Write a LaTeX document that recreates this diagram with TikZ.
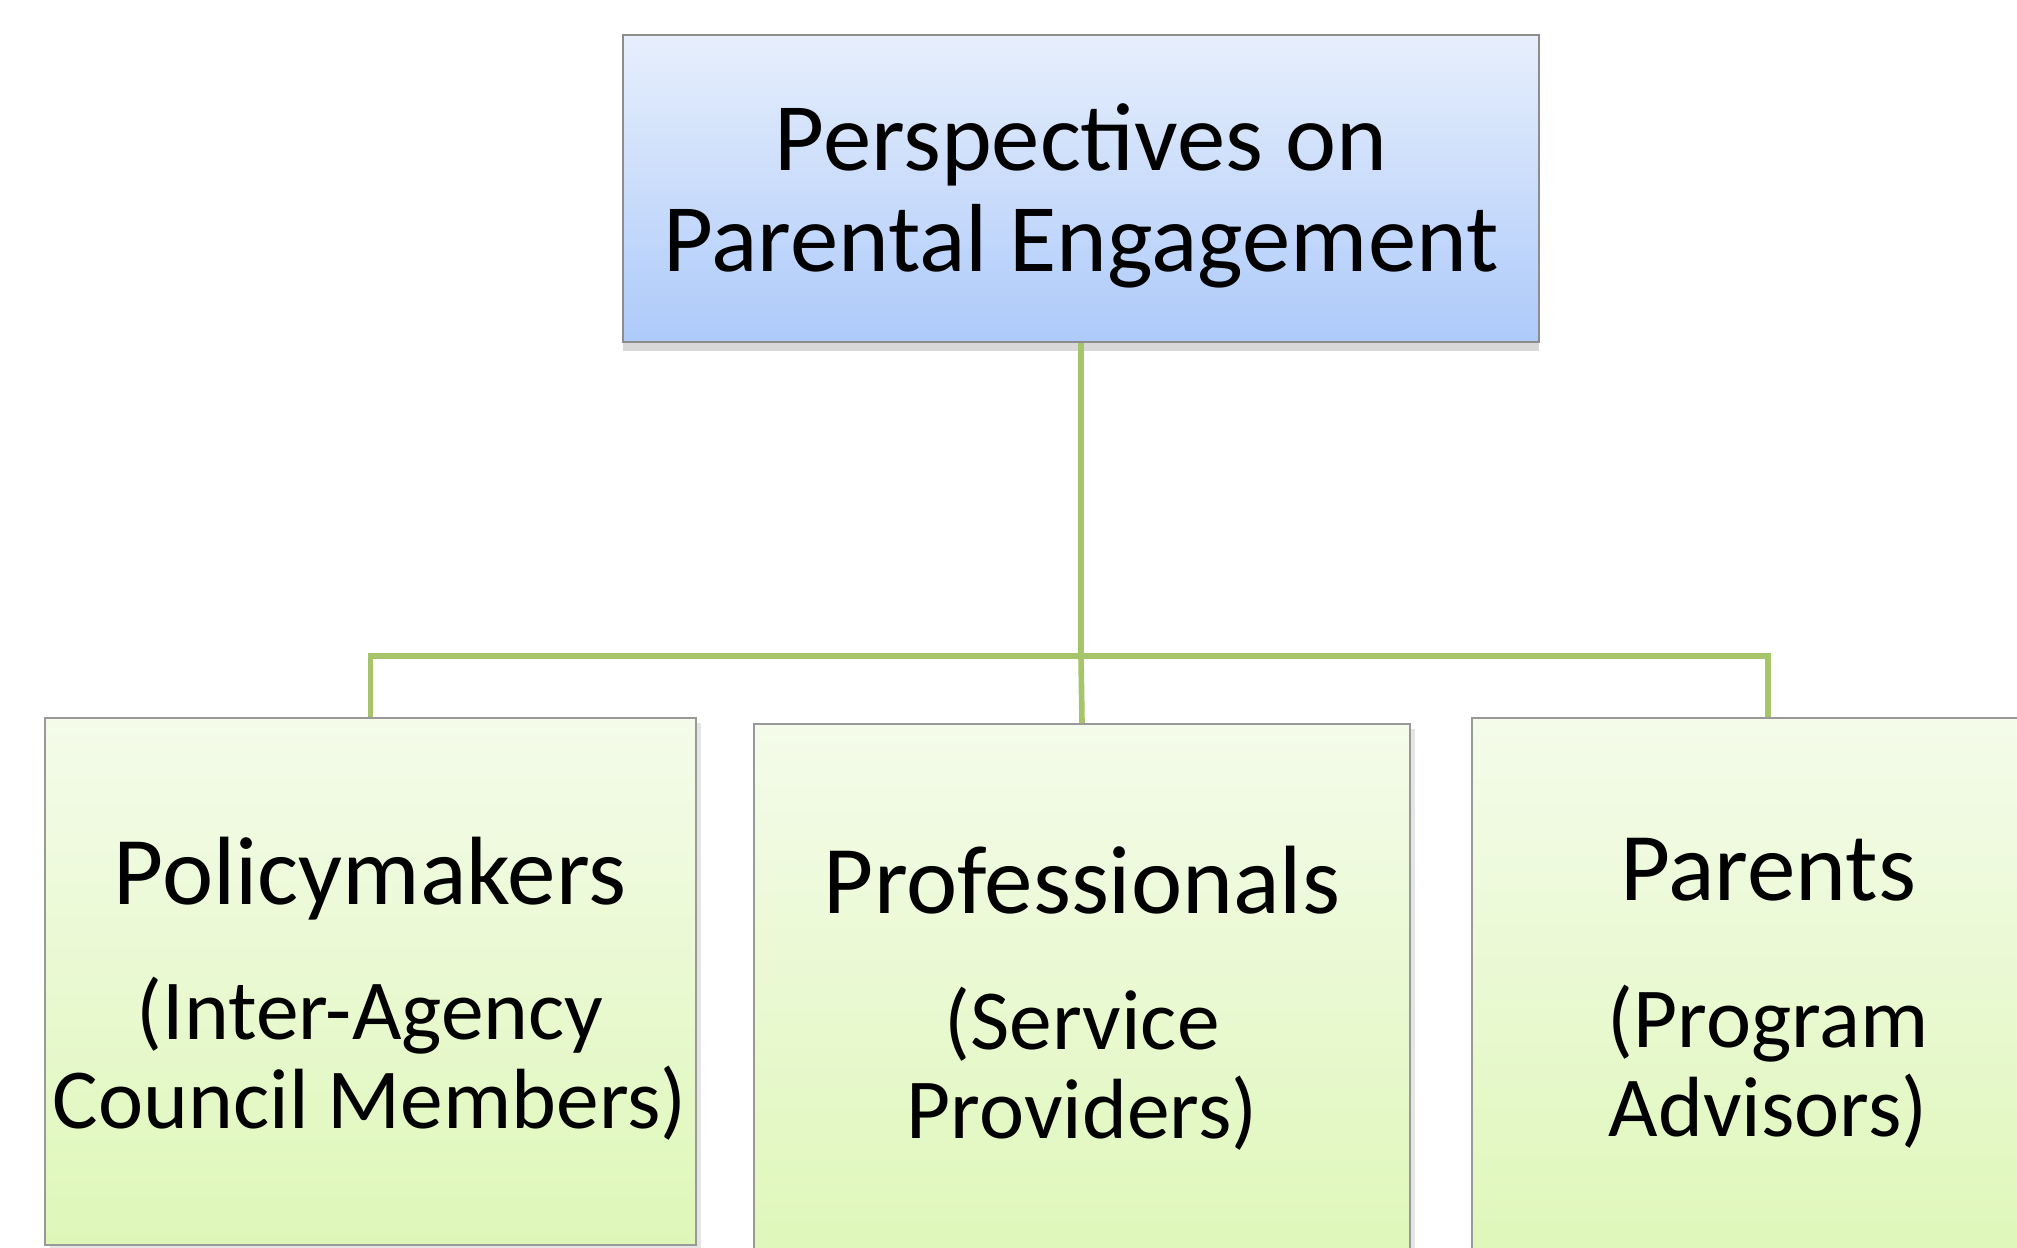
\documentclass[tikz,border=0pt]{standalone}
\usepackage{fontspec}
\setmainfont{Carlito}
\usetikzlibrary{positioning,shadows}
\definecolor{headtop}{HTML}{E7EFFC}
\definecolor{headbot}{HTML}{ADCAFA}
\definecolor{leaftop}{HTML}{F4FBEA}
\definecolor{leafbot}{HTML}{DEF7B8}
\definecolor{linkgreen}{HTML}{A6C469}
\tikzset{hbox/.style={draw=black!45, line width=0.6pt, top color=headtop, bottom color=headbot, minimum width=9.16cm, minimum height=3.07cm, drop shadow={shadow xshift=0pt, shadow yshift=-2.5pt, opacity=0.3}}}
\tikzset{htxt/.style={align=center, inner sep=0pt, font=\fontsize{27.5}{28.5}\selectfont}}
\tikzset{lbox/.style={draw=black!40, line width=0.6pt, top color=leaftop, bottom color=leafbot, inner sep=0pt, drop shadow={shadow xshift=1.5pt, shadow yshift=-1.5pt, opacity=0.2}}}
\tikzset{lname/.style={inner sep=0pt, font=\fontsize{27.6}{30}\selectfont}}
\tikzset{lsub/.style={align=center, inner sep=0pt, font=\fontsize{24.3}{25.3}\selectfont}}
\tikzset{lnk/.style={draw=linkgreen, line width=1.6pt}}

\begin{document}
\begin{tikzpicture}[x=0.01cm, y=-0.01cm]
	\clip (0,0) rectangle (2017,1248);
	\fill[white] (0,0) rectangle (2017,1248);
	% head of the chart
	\node[hbox] (head) at (1081,188.5) {};
	\node[htxt, anchor=base] (headtxt) at (1081,271) {Perspectives on\\Parental Engagement};
	%
	% three perspectives
	\node[lbox, minimum width=6.51cm, minimum height=5.27cm] (policy) at (370.5,981.5) {};
	\node[lbox, minimum width=6.56cm, minimum height=5.46cm] (prof) at (1082,997) {};
	\node[lbox, minimum width=5.92cm, minimum height=5.52cm] (parents) at (1768,994) {};
	%
	\node[lname, anchor=base] (policyname) at (370,904) {Policymakers};
	\node[lsub, anchor=base] (policysub) at (370,1128) {(Inter-Agency\\Council Members)};
	\node[lname, anchor=base] (profname) at (1082,913) {Professionals};
	\node[lsub, anchor=base] (profsub) at (1082,1138) {(Service\\Providers)};
	\node[lname, anchor=base] (parentsname) at (1768,900) {Parents};
	\node[lsub, anchor=base] (parentssub) at (1768,1136) {(Program\\Advisors)};
	%
	\coordinate (hub) at (1081,656);
	\draw[lnk] (head.south) -- (hub);
	\draw[lnk] (policy.north) |- (hub) -| (parents.north);
	\draw[lnk] (hub) -- (prof.north);
\end{tikzpicture}
\end{document}
